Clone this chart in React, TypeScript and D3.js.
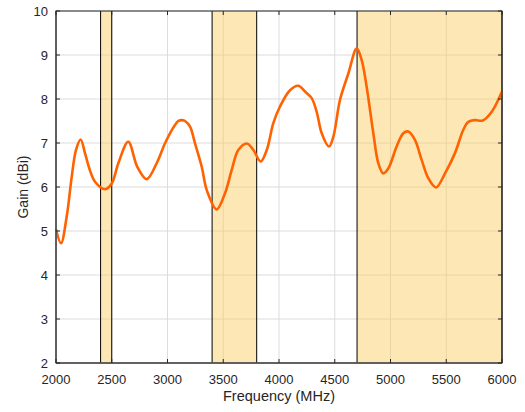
import React from "react";
import * as d3 from "d3";

const freqs = [2000, 2045, 2096, 2141, 2179, 2221, 2260, 2299, 2350, 2440, 2500, 2559, 2648, 2729, 2813, 2903, 2977, 3052, 3097, 3127, 3157, 3202, 3247, 3307, 3352, 3441, 3516, 3576, 3635, 3711, 3770, 3836, 3890, 3949, 4009, 4099, 4173, 4233, 4293, 4338, 4383, 4448, 4487, 4547, 4622, 4697, 4741, 4786, 4846, 4891, 4935, 4980, 5055, 5115, 5160, 5219, 5280, 5339, 5408, 5489, 5578, 5653, 5698, 5758, 5827, 5908, 6000];
const gains = [5.04, 4.72, 5.33, 6.23, 6.84, 7.08, 6.77, 6.42, 6.12, 5.95, 6.08, 6.54, 7.03, 6.46, 6.18, 6.54, 6.99, 7.35, 7.5, 7.52, 7.5, 7.37, 6.99, 6.46, 5.93, 5.49, 5.86, 6.39, 6.84, 6.99, 6.84, 6.58, 6.84, 7.45, 7.83, 8.2, 8.3, 8.17, 8.02, 7.71, 7.22, 6.92, 7.14, 7.98, 8.58, 9.15, 8.89, 8.28, 7.22, 6.54, 6.31, 6.42, 6.92, 7.22, 7.26, 7.07, 6.61, 6.2, 5.99, 6.31, 6.77, 7.3, 7.48, 7.52, 7.51, 7.71, 8.17];
const bandStarts = [2400, 3400, 4700];
const bandEnds = [2500, 3800, 6000];
const xTicks = [2000, 2500, 3000, 3500, 4000, 4500, 5000, 5500, 6000];
const yTicks = [2, 3, 4, 5, 6, 7, 8, 9, 10];

const W = 525, H = 412;
const L = 56, R = 502, T = 11, B = 363;
const font = "'Liberation Sans', Arial, sans-serif";

export default function App() {
  const x = d3.scaleLinear().domain([2000, 6000]).range([L, R]);
  const y = d3.scaleLinear().domain([2, 10]).range([B, T]);
  const pts = freqs.map((f, i) => [f, gains[i]] as [number, number]);
  const line = d3.line<[number, number]>().x(d => x(d[0])).y(d => y(d[1])).curve(d3.curveCatmullRom.alpha(0.5));
  const axisColor = "#262626";
  return (
    <svg width={W} height={H} style={{ position: "absolute", left: 0, top: 0, background: "#fff" }}>
      <rect x={L} y={T} width={R - L} height={B - T} fill="#fff" />
      {xTicks.map(t => (
        <line key={"gx" + t} x1={x(t)} x2={x(t)} y1={T} y2={B} stroke="#dcdcdc" strokeWidth={1} />
      ))}
      {yTicks.map(t => (
        <line key={"gy" + t} x1={L} x2={R} y1={y(t)} y2={y(t)} stroke="#dcdcdc" strokeWidth={1} />
      ))}
      {bandStarts.map((s, i) => (
        <g key={"b" + i}>
          <rect x={x(s)} y={T} width={x(bandEnds[i]) - x(s)} height={B - T} fill="rgb(250,205,90)" fillOpacity={0.45} />
          <line x1={x(s)} x2={x(s)} y1={T} y2={B} stroke="#000" strokeWidth={1} />
          <line x1={x(bandEnds[i])} x2={x(bandEnds[i])} y1={T} y2={B} stroke="#000" strokeWidth={1} />
        </g>
      ))}
      <path d={line(pts) || ""} fill="none" stroke="#FF6200" strokeWidth={2.6} strokeLinejoin="round" />
      <rect x={L} y={T} width={R - L} height={B - T} fill="none" stroke={axisColor} strokeWidth={1} />
      <line x1={L} x2={L} y1={T} y2={B} stroke="#555" strokeWidth={1.6} />
      <line x1={L} x2={R} y1={B} y2={B} stroke="#555" strokeWidth={1.6} />
      {xTicks.map(t => (
        <g key={"tx" + t}>
          <line x1={x(t)} x2={x(t)} y1={B} y2={B - 4} stroke={axisColor} />
          <line x1={x(t)} x2={x(t)} y1={T} y2={T + 4} stroke={axisColor} />
          <text x={x(t)} y={B + 21} textAnchor="middle" fontFamily={font} fontSize={13} fill="#262626">{t}</text>
        </g>
      ))}
      {yTicks.map(t => (
        <g key={"ty" + t}>
          <line x1={L} x2={L + 4} y1={y(t)} y2={y(t)} stroke={axisColor} />
          <line x1={R} x2={R - 4} y1={y(t)} y2={y(t)} stroke={axisColor} />
          <text x={L - 8} y={y(t) + 4.5} textAnchor="end" fontFamily={font} fontSize={13} fill="#262626">{t}</text>
        </g>
      ))}
      <text x={(L + R) / 2} y={401} textAnchor="middle" fontFamily={font} fontSize={14.5} fill="#262626">Frequency (MHz)</text>
      <text transform={`translate(28,${(T + B) / 2}) rotate(-90)`} textAnchor="middle" fontFamily={font} fontSize={14} fill="#262626">Gain (dBi)</text>
    </svg>
  );
}
